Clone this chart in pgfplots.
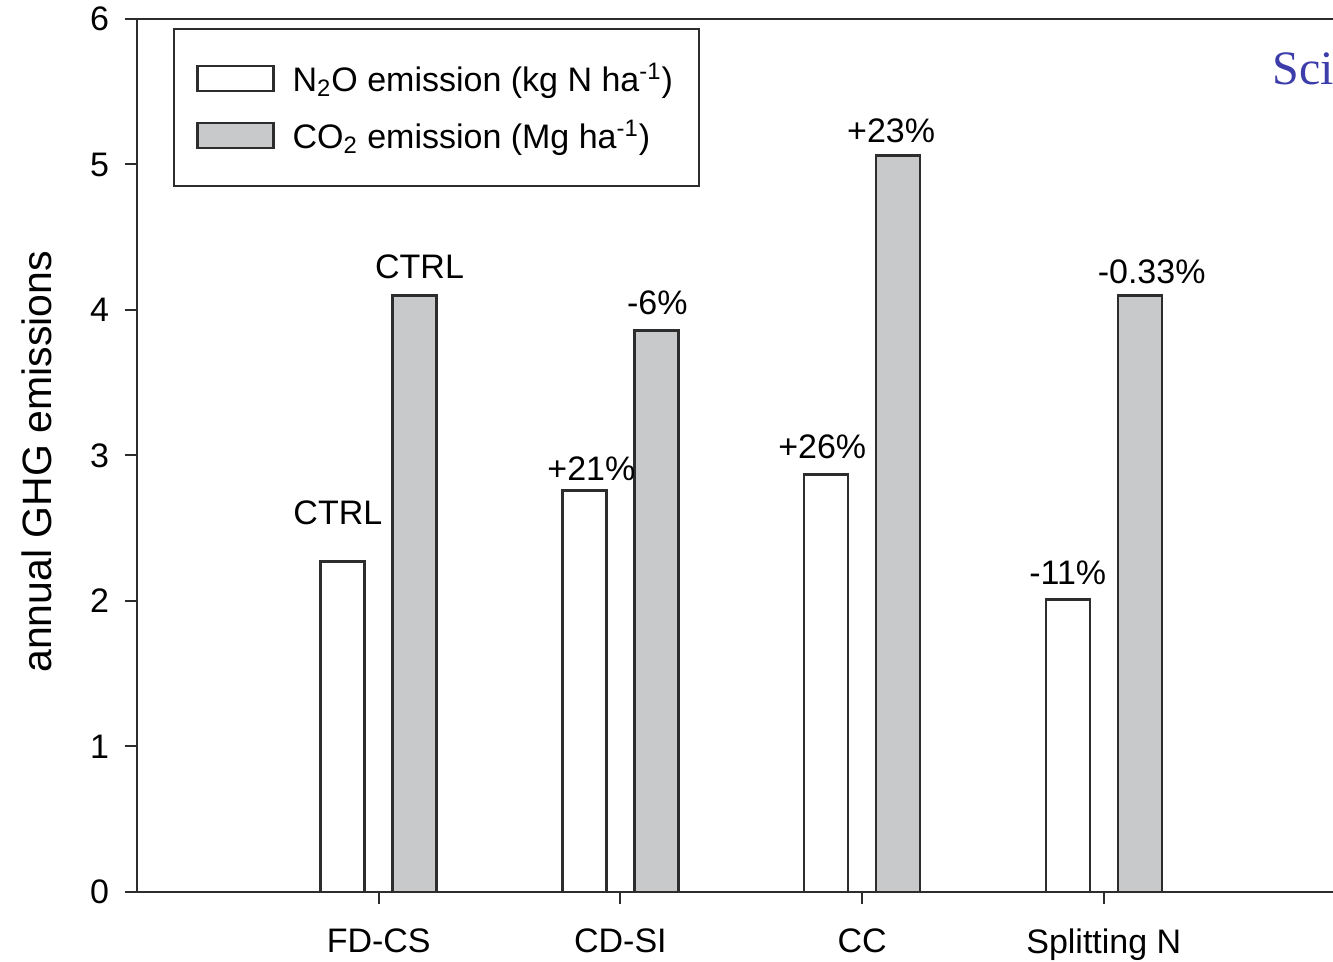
\documentclass[border=0pt]{standalone}
\usepackage{fontspec}
\setmainfont{Liberation Sans}
\newfontfamily\seriffont{Liberation Serif}
\usepackage{pgfplots}
\pgfplotsset{compat=1.18}
\definecolor{barfill}{RGB}{200,201,203}
\definecolor{edge}{RGB}{45,45,45}
\definecolor{watermark}{RGB}{60,60,170}
\begin{document}
\begin{tikzpicture}
\begin{axis}[
  at={(0,0)}, anchor=south west,
  scale only axis, width=604.25pt, height=436.5pt,
  xmin=-1, xmax=4, ymin=0, ymax=6,
  xtick={0,1,2,3}, xticklabels={FD-CS,CD-SI,CC,Splitting N},
  ytick={0,1,2,3,4,5,6},
  xtick pos=bottom, ytick pos=left,
  tick align=outside, major tick length=6pt,
  tick style={line width=1pt, draw=edge},
  axis line style={line width=1.2pt, draw=edge},
  /pgf/number format/assume math mode=true,
  tick label style={font=\fontsize{17}{20}\selectfont},
  xticklabel style={yshift=-9pt},
  yticklabel style={xshift=-4.5pt},
  ylabel={annual GHG emissions},
  ylabel style={at={(axis description cs:-0.0828,0.4926)}, anchor=center, font=\fontsize{20.5}{24}\selectfont},
  legend image code/.code={\draw[#1] (0pt,-6.25pt) rectangle (38pt,6.25pt);},
  legend style={at={(axis description cs:0.0298,0.990)}, anchor=north west,
    draw=edge, line width=1pt, font=\fontsize{17}{20}\selectfont,
    inner xsep=11pt, inner ysep=15pt, row sep=8.5pt, column sep=7pt, cells={anchor=west}},
]
\addplot[ybar, bar width=22pt, bar shift=-18pt, fill=white, draw=edge, line width=1.3pt]
  coordinates {(0,2.27) (1,2.76) (2,2.87) (3,2.01)};
\addlegendentry{N\textsubscript{2}O emission (kg N ha\textsuperscript{-1})}
\addplot[ybar, bar width=22pt, bar shift=18pt, fill=barfill, draw=edge, line width=1.3pt]
  coordinates {(0,4.10) (1,3.86) (2,5.06) (3,4.10)};
\addlegendentry{CO\textsubscript{2} emission (Mg ha\textsuperscript{-1})}
\node[font=\fontsize{17}{20}\selectfont] at (axis cs:-0.169,2.605) {CTRL};
\node[font=\fontsize{17}{20}\selectfont] at (axis cs:0.169,4.296) {CTRL};
\node[font=\fontsize{17}{20}\selectfont] at (axis cs:0.880,2.907) {+21\%};
\node[font=\fontsize{17}{20}\selectfont] at (axis cs:1.153,4.048) {-6\%};
\node[font=\fontsize{17}{20}\selectfont] at (axis cs:1.835,3.058) {+26\%};
\node[font=\fontsize{17}{20}\selectfont] at (axis cs:2.120,5.230) {+23\%};
\node[font=\fontsize{17}{20}\selectfont] at (axis cs:2.851,2.192) {-11\%};
\node[font=\fontsize{17}{20}\selectfont] at (axis cs:3.198,4.261) {-0.33\%};
\end{axis}
\node[anchor=base west, inner sep=0pt, text=watermark, font=\seriffont\fontsize{24}{28}\selectfont] at (567.5pt,403.5pt) {Scie};
\pgfresetboundingbox
\path (-68.5pt,-35pt) rectangle ++(666.5pt,481pt);
\end{tikzpicture}
\end{document}
